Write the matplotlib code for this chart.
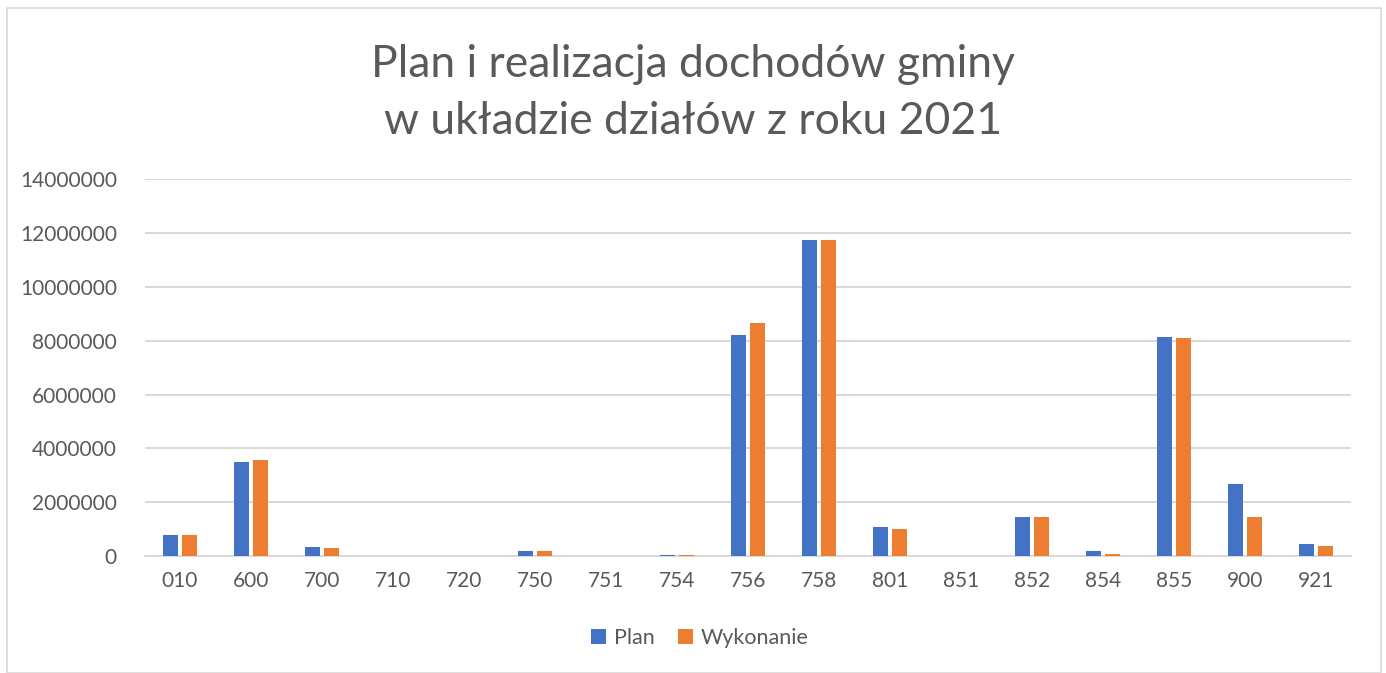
import numpy as np
import matplotlib.pyplot as plt
from matplotlib.patches import Rectangle

# Dane
dzialy = ['010', '600', '700', '710', '720', '750', '751', '754', '756',
          '758', '801', '851', '852', '854', '855', '900', '921']
plan = [790000, 3490000, 350000, 0, 0, 170000, 0, 40000, 8200000,
        11730000, 1070000, 0, 1450000, 170000, 8150000, 2680000, 430000]
wykonanie = [790000, 3580000, 310000, 0, 0, 170000, 0, 40000, 8660000,
             11730000, 1010000, 0, 1450000, 90000, 8100000, 1440000, 360000]

plt.rcParams['font.family'] = ['Lato', 'DejaVu Sans']
grey = '#595959'

fig = plt.figure(figsize=(13.86, 6.73), dpi=100)
ax = fig.add_axes([0.1043, 0.1738, 0.8708, 0.5600])

x = np.arange(len(dzialy))
w = 0.21
off = 0.137
ax.bar(x - off, plan, w, color='#4472C4', label='Plan', zorder=3)
ax.bar(x + off, wykonanie, w, color='#ED7D31', label='Wykonanie', zorder=3)

ax.set_xlim(-0.5, len(dzialy) - 0.5)
ax.set_ylim(0, 14000000)
ax.set_yticks(np.arange(0, 14000001, 2000000))
ax.yaxis.set_major_formatter(plt.FuncFormatter(lambda v, loc: "{:d}".format(int(v))))
ax.set_xticks(x)
ax.set_xticklabels(dzialy)
ax.tick_params(axis='both', length=0, labelsize=15, colors=grey)
ax.tick_params(axis='y', pad=20)
ax.tick_params(axis='x', pad=11)
ax.grid(axis='y', color='#d9d9d9', linewidth=1.5, zorder=0)
for s in ['top', 'right', 'left']:
    ax.spines[s].set_visible(False)
ax.spines['bottom'].set_color('#d9d9d9')
ax.spines['bottom'].set_linewidth(1.5)

fig.text(0.5, 0.862, 'Plan i realizacja dochodów gminy\nw układzie działów z roku 2021',
         ha='center', va='center', fontsize=32, color=grey, linespacing=1.5)

fig.legend(loc='center', bbox_to_anchor=(0.505, 0.052), ncol=2, frameon=False,
           fontsize=15.5, labelcolor=grey, handlelength=0.7, handleheight=0.7,
           columnspacing=1.1, handletextpad=0.35)

fig.patches.append(Rectangle((7 / 1386, 0.0), 1374 / 1386, 1 - 8 / 673,
                             transform=fig.transFigure, fill=False,
                             edgecolor='#d9d9d9', linewidth=1.2))

fig.savefig('out.png', dpi=100)
